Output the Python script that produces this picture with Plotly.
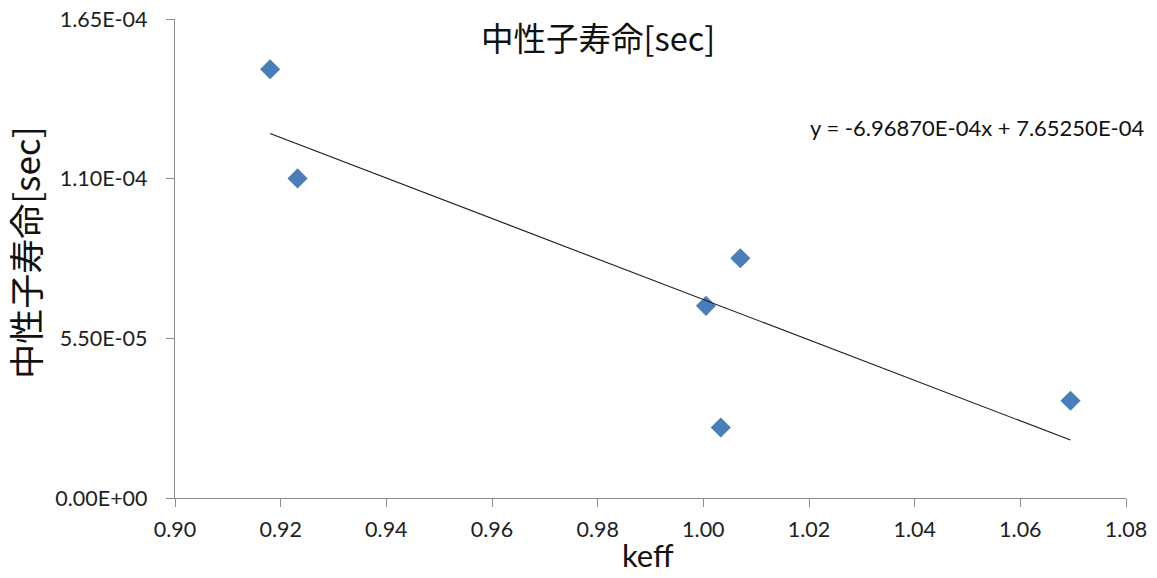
import plotly.graph_objects as go

# keff vs neutron lifetime [sec]
keff = [0.9180, 0.9232, 1.0005, 1.0070, 1.0033, 1.0695]
lifetime = [1.477e-4, 1.101e-4, 6.62e-5, 8.26e-5, 2.43e-5, 3.35e-5]

# linear trend coefficients
slope = -6.96870e-4
intercept = 7.65250e-4
trend_label = "y = -6.96870E-04x + 7.65250E-04"

y_tickvals = [0.0, 5.5e-5, 1.1e-4, 1.65e-4]
y_ticktext = ["0.00E+00", "5.50E-05", "1.10E-04", "1.65E-04"]

title_text = "中性子寿命[sec]"
x_title = "keff"

latin = "Lato, 'Noto Sans CJK JP', sans-serif"
cjk = "'Noto Sans CJK JP', sans-serif"
axis_color = "#8c8c8c"
text_color = "#1e1e1e"

x_lo, x_hi = min(keff), max(keff)

fig = go.Figure()
fig.add_trace(go.Scatter(
    x=keff, y=lifetime, mode="markers",
    marker=dict(symbol="diamond", size=15.5, color="#4A7EBB"),
    showlegend=False, hoverinfo="x+y",
))
fig.add_trace(go.Scatter(
    x=[x_lo, x_hi], y=[slope * x_lo + intercept, slope * x_hi + intercept],
    mode="lines", line=dict(color="#1a1a1a", width=1.1),
    showlegend=False, hoverinfo="skip",
))

tick_font = dict(family=latin, size=21.5, color=text_color)

fig.update_layout(
    width=1157, height=578,
    margin=dict(l=175, r=31, t=19, b=80, autoexpand=False),
    paper_bgcolor="white", plot_bgcolor="white",
    font=dict(family=latin, size=21, color=text_color),
    xaxis=dict(
        range=[0.90, 1.08], dtick=0.02, tick0=0.90, tickformat=".2f",
        showgrid=False, zeroline=False, showline=True, linecolor=axis_color,
        linewidth=1.3, ticks="outside", ticklen=8, tickcolor=axis_color,
        tickfont=tick_font, ticklabelstandoff=4, automargin=False,
        ticklabeloverflow="allow",
    ),
    yaxis=dict(
        range=[0, 1.65e-4], tickvals=y_tickvals, ticktext=y_ticktext,
        showgrid=False, zeroline=False, showline=True, linecolor=axis_color,
        linewidth=1.3, ticks="outside", ticklen=8, tickcolor=axis_color,
        tickfont=tick_font, ticklabelstandoff=14, automargin=False,
        ticklabeloverflow="allow",
    ),
    annotations=[
        dict(text=title_text, x=0.4448, y=0.9625, xref="paper", yref="paper",
             xanchor="center", yanchor="middle", showarrow=False,
             font=dict(family=cjk, size=32.5, color="#111111")),
        dict(text=title_text, x=-0.1577, y=0.512, xref="paper", yref="paper",
             xanchor="center", yanchor="middle", showarrow=False, textangle=-90,
             font=dict(family=cjk, size=35, color="#111111")),
        dict(text=x_title, x=0.497, y=-0.118, xref="paper", yref="paper",
             xanchor="center", yanchor="middle", showarrow=False,
             font=dict(family=latin, size=31, color="#111111")),
        dict(text=trend_label, x=0.6656, y=0.7727, xref="paper", yref="paper",
             xanchor="left", yanchor="middle", showarrow=False,
             font=dict(family=latin, size=22, color="#111111")),
    ],
)

fig.write_html("out.html")
